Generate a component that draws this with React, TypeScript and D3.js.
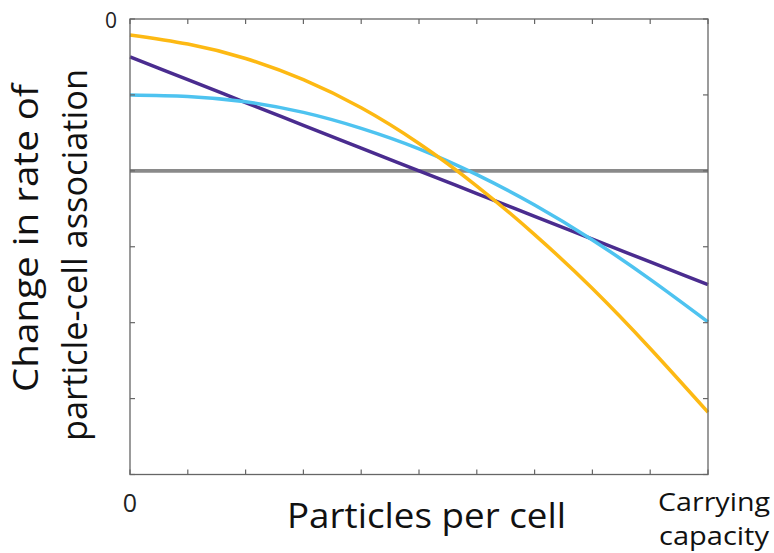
import React from "react";
import * as d3 from "d3";

// particles per cell, as a fraction of carrying capacity
const xs = [0, 0.1, 0.2, 0.3, 0.4, 0.5, 0.6, 0.7, 0.8, 0.9, 1.0];
// change in rate of association (one unit = one y tick)
const purpleVals = [-0.5, -0.8, -1.1, -1.4, -1.7, -2.0, -2.3, -2.6, -2.9, -3.2, -3.5];
const blueVals = [-1.0, -1.02, -1.09, -1.23, -1.44, -1.71, -2.05, -2.45, -2.91, -3.43, -3.99];
const yellowVals = [-0.21, -0.33, -0.52, -0.8, -1.17, -1.64, -2.2, -2.84, -3.55, -4.34, -5.18];
const grayVals = [-2, -2];
const grayXs = [0, 1];
const yTicks = [0, -1, -2, -3, -4, -5, -6];

const W = 774;
const H = 553;
const left = 130;
const right = 708;
const top = 19;
const bottom = 474.5;
const font = "'Open Sans', 'Noto Sans', sans-serif";

export default function App() {
  const x = d3.scaleLinear().domain([0, 1]).range([left, right]);
  const y = d3.scaleLinear().domain([-6, 0]).range([bottom, top]);

  const line = d3
    .line<[number, number]>()
    .x(d => x(d[0]))
    .y(d => y(d[1]))
    .curve(d3.curveNatural);

  const pts = (xv: number[], yv: number[]) => xv.map((v, i) => [v, yv[i]] as [number, number]);

  const series = [
    { vals: pts(grayXs, grayVals), color: "#8a8a8a", w: 3.6 },
    { vals: pts(xs, purpleVals), color: "#4a2c8f", w: 3.5 },
    { vals: pts(xs, blueVals), color: "#4ec3f0", w: 3.5 },
    { vals: pts(xs, yellowVals), color: "#fdb913", w: 3.5 },
  ];

  const tickLen = 5;
  const axisColor = "#666";

  return (
    <svg width={W} height={H} style={{ position: "absolute", left: 0, top: 0 }}>
      <rect width={W} height={H} fill="#fff" />

      {/* series */}
      {series.map((s, i) => (
        <path key={i} d={line(s.vals) || ""} fill="none" stroke={s.color} strokeWidth={s.w} />
      ))}

      {/* box */}
      <rect x={left} y={top} width={right - left} height={bottom - top} fill="none" stroke={axisColor} strokeWidth={1.3} />

      {/* x ticks, bottom and top */}
      {xs.map((t, i) => (
        <g key={"xt" + i} stroke={axisColor} strokeWidth={1.2}>
          <line x1={x(t)} x2={x(t)} y1={bottom} y2={bottom - tickLen} />
          <line x1={x(t)} x2={x(t)} y1={top} y2={top + tickLen} />
        </g>
      ))}

      {/* y ticks, left and right */}
      {yTicks.map((t, i) => (
        <g key={"yt" + i} stroke={axisColor} strokeWidth={1.2}>
          <line x1={left} x2={left + tickLen} y1={y(t)} y2={y(t)} />
          <line x1={right} x2={right - tickLen} y1={y(t)} y2={y(t)} />
        </g>
      ))}

      {/* labels */}
      <text x={111} y={28} fontFamily={font} fontSize={21} textAnchor="middle" fill="#222">0</text>
      <text x={130} y={512} fontFamily={font} fontSize={25} textAnchor="middle" fill="#222">0</text>
      <text x={287} y={528} fontFamily={font} fontSize={34} fill="#111" textLength={279} lengthAdjust="spacingAndGlyphs">
        Particles per cell
      </text>
      <text x={714} y={511} fontFamily={font} fontSize={25} textAnchor="middle" fill="#111" textLength={112} lengthAdjust="spacingAndGlyphs">
        Carrying
      </text>
      <text x={714} y={545} fontFamily={font} fontSize={25} textAnchor="middle" fill="#111" textLength={110} lengthAdjust="spacingAndGlyphs">
        capacity
      </text>
      <g transform="translate(38,238) rotate(-90)">
        <text x={0} y={0} fontFamily={font} fontSize={34} textAnchor="middle" fill="#111" textLength={308} lengthAdjust="spacingAndGlyphs">
          Change in rate of
        </text>
      </g>
      <g transform="translate(87,255) rotate(-90)">
        <text x={0} y={0} fontFamily={font} fontSize={34} textAnchor="middle" fill="#111" textLength={372} lengthAdjust="spacingAndGlyphs">
          particle-cell association
        </text>
      </g>
    </svg>
  );
}
